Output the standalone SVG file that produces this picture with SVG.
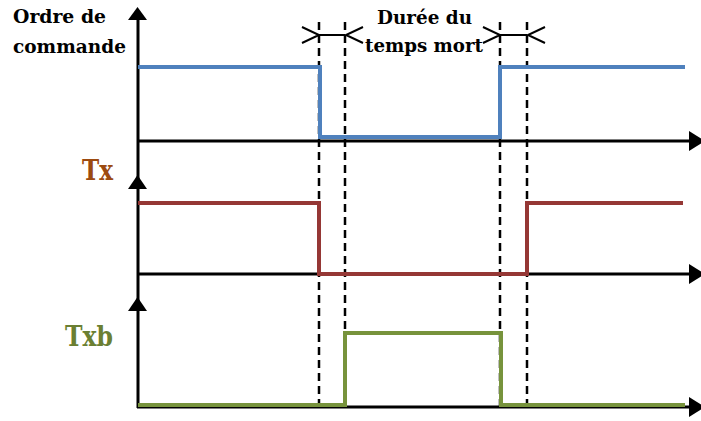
<svg xmlns="http://www.w3.org/2000/svg" width="701" height="421" viewBox="0 0 701 421">
<style>
.axis{stroke:#000;stroke-width:3;fill:none}
.head{fill:#000}
.dash{stroke:#000;stroke-width:2.5;stroke-dasharray:8 5;fill:none}
.dim{stroke:#000;stroke-width:2;fill:none}
.sig{stroke-width:4;fill:none;stroke-linejoin:miter}
.lbl{font-family:'DejaVu Serif',serif;font-weight:bold}
</style>
<rect width="701" height="421" fill="#fff"/>
<g id="axes">
<line class="axis" x1="138" y1="16" x2="138" y2="408"/>
<polygon class="head" points="137.5,7 128,20 147,20"/>
<polygon class="head" points="137.5,175 128,189 147,189"/>
<polygon class="head" points="137.5,297 128,311 147,311"/>
<line class="axis" x1="137" y1="141" x2="692" y2="141"/>
<polygon class="head" points="705,141 689,131 689,151"/>
<line class="axis" x1="137" y1="274" x2="692" y2="274"/>
<polygon class="head" points="705,274 689,264 689,284"/>
<line class="axis" x1="137" y1="407" x2="692" y2="407"/>
<polygon class="head" points="705,407 689,397 689,417"/>
</g>
<g id="guides">
<line class="dash" x1="319" y1="22" x2="319" y2="412"/>
<line class="dash" x1="345" y1="22" x2="345" y2="412"/>
<line class="dash" x1="500" y1="22" x2="500" y2="412"/>
<line class="dash" x1="527" y1="22" x2="527" y2="412"/>
</g>
<g id="dimensions">
<line class="dim" x1="319" y1="35" x2="345" y2="35"/>
<polyline class="dim" points="302,27 319,35 302,43"/>
<polyline class="dim" points="363,27 346,35 363,43"/>
<line class="dim" x1="500" y1="35" x2="527" y2="35"/>
<polyline class="dim" points="483,27 500,35 483,43"/>
<polyline class="dim" points="545,27 528,35 545,43"/>
</g>
<g id="signal-ordre">
<polyline class="sig" stroke="#4F81BD" points="138,67 320,67 320,137 500,137 500,67 685,67"/>
</g>
<g id="signal-tx">
<polyline class="sig" stroke="#953735" points="138,203 319,203 319,274 527,274 527,203 683,203"/>
</g>
<g id="signal-txb">
<polyline class="sig" stroke="#77933C" points="138,405 345,405 345,333 501,333 501,405 685,405"/>
</g>
<g id="labels">
<text class="lbl" x="13" y="23" font-size="19" textLength="93" lengthAdjust="spacingAndGlyphs">Ordre de</text>
<text class="lbl" x="13" y="53" font-size="19" textLength="113" lengthAdjust="spacingAndGlyphs">commande</text>
<text class="lbl" x="377" y="24" font-size="19" textLength="95" lengthAdjust="spacingAndGlyphs">Durée du</text>
<text class="lbl" x="365" y="52" font-size="19" textLength="118" lengthAdjust="spacingAndGlyphs">temps mort</text>
<text class="lbl" x="82" y="180" font-size="27" fill="#9C4A10" textLength="31" lengthAdjust="spacingAndGlyphs">Tx</text>
<text class="lbl" x="65" y="346" font-size="28" fill="#6B7F32" textLength="48" lengthAdjust="spacingAndGlyphs">Txb</text>
</g>
</svg>
